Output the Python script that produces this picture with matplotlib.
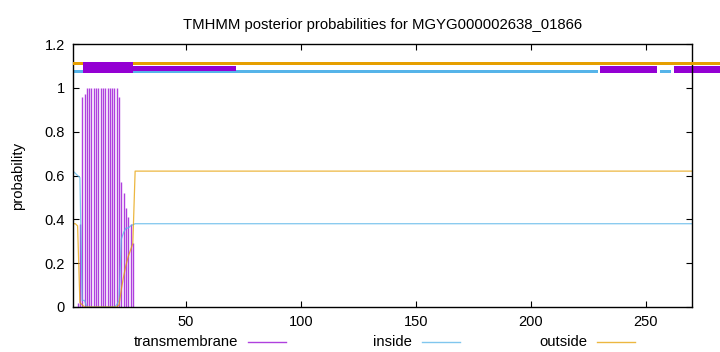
import matplotlib
matplotlib.use('Agg')
import numpy as np
import matplotlib.pyplot as plt
from matplotlib.patches import Rectangle
from matplotlib.lines import Line2D

# Per-residue posterior probabilities
seq_len = 270
tm_head = [0, 0, 0.02, 0.38, 0.96, 0.97, 1, 1, 1, 1, 1, 1, 1, 1, 1, 1, 1, 1, 1, 1,
           0.96, 0.57, 0.52, 0.45, 0.41, 0.38, 0.29, 0]
inside_head = [0.62, 0.61, 0.60, 0.59, 0.03, 0.03, 0, 0, 0, 0, 0, 0, 0, 0, 0, 0, 0, 0, 0, 0.01,
               0.03, 0.31, 0.34, 0.36, 0.36, 0.37, 0.375, 0.38]
outside_head = [0.38, 0.38, 0.37, 0.02, 0.01, 0, 0, 0, 0, 0, 0, 0, 0, 0, 0, 0, 0, 0, 0, 0,
                0.01, 0.08, 0.14, 0.19, 0.23, 0.26, 0.29, 0.62]
inside_tail = 0.38
outside_tail = 0.62

# Predicted topology segments along the top (start, end residue)
outside_segs = [(1, 282)]
inside_segs = [(1, 229), (256, 261)]
tm_segs = [(5.2, 27, 'box'), (27, 72, 'thin'), (230, 255, 'low'), (262.3, 282, 'low')]

pos = np.arange(1, seq_len + 1)
n_tail = seq_len - len(tm_head)
tm = np.array(tm_head + [0] * n_tail)
inside = np.array(inside_head + [inside_tail] * n_tail)
outside = np.array(outside_head + [outside_tail] * n_tail)

c_tm = '#9400d3'
c_in = '#56b4e9'
c_out = '#e69f00'

plt.rcParams['font.family'] = ['Liberation Sans', 'DejaVu Sans']

fig = plt.figure(figsize=(7.2, 3.52), dpi=100)
ax = fig.add_axes([73 / 720, 45 / 352, (692 - 73) / 720, (307 - 44) / 352])

# impulses for transmembrane
ax.vlines(pos[tm > 0], 0, tm[tm > 0], color=c_tm, lw=1.0, alpha=0.75)
ax.plot(pos, inside, color=c_in, lw=0.9, alpha=0.75)
ax.plot(pos, outside, color=c_out, lw=0.9, alpha=0.75)

# topology bars on top
levels = {'box': (1.066, 0.050), 'thin': (1.077, 0.024), 'low': (1.066, 0.033)}
for a, b in inside_segs:
    ax.add_patch(Rectangle((a, 1.066), b - a, 0.014, color=c_in, lw=0, clip_on=False, zorder=2))
for a, b, kind in tm_segs:
    y0, h = levels[kind]
    ax.add_patch(Rectangle((a, y0), b - a, h, color=c_tm, lw=0, clip_on=False,
                           zorder=4 if kind == 'box' else 2))
for a, b in outside_segs:
    ax.add_patch(Rectangle((a, 1.102), b - a, 0.018, color=c_out, lw=0, clip_on=False, zorder=3))

ax.set_xlim(1, 270)
ax.set_ylim(0, 1.2)
ax.set_xticks([50, 100, 150, 200, 250])
ax.set_yticks([0, 0.2, 0.4, 0.6, 0.8, 1.0, 1.2])
ax.set_yticklabels(['0', '0.2', '0.4', '0.6', '0.8', '1', '1.2'])
ax.tick_params(direction='in', top=True, right=True, length=4, width=0.8,
               labelsize=10.5, pad=6)
for s in ax.spines.values():
    s.set_linewidth(1.0)

ax.set_title('TMHMM posterior probabilities for MGYG000002638_01866', fontsize=10.7, pad=11)
ax.set_ylabel('probability', fontsize=10.7, labelpad=14)

# legend along the bottom, gnuplot style
legend = [('transmembrane', c_tm, 238, 248), ('inside', c_in, 412, 422), ('outside', c_out, 587, 597)]
for label, col, tx, lx in legend:
    fig.text(tx / 720, 1 - 342 / 352, label, ha='right', va='center', fontsize=10.7)
    fig.add_artist(Line2D([lx / 720, (lx + 38) / 720], [1 - 342 / 352] * 2,
                          color=col, lw=1.0, alpha=0.75, transform=fig.transFigure))

fig.savefig('out.png', dpi=100)
